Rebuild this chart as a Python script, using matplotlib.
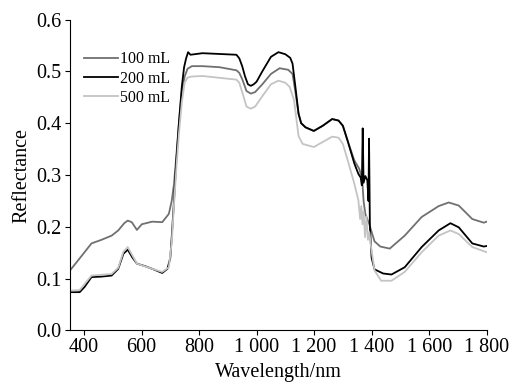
"""
Reflectance spectra for three dosages.
"""

import matplotlib

matplotlib.use("Agg")

import matplotlib.pyplot as plt
from matplotlib.ticker import FuncFormatter

# wavelength (nm) / reflectance pairs
wl_100 = [350, 379, 426, 461, 496, 519, 540, 552, 566, 584, 601, 637, 672, 695,
          705, 713, 720, 730, 740, 750, 760, 775, 812, 871, 930, 940, 950, 965,
          980, 995, 1020, 1050, 1080, 1110, 1125, 1135, 1146, 1155, 1170, 1199,
          1230, 1263, 1285, 1300, 1316, 1340, 1357, 1363, 1368, 1372, 1378,
          1385, 1392, 1400, 1410, 1430, 1463, 1515, 1574, 1633, 1668, 1703,
          1750, 1790, 1800]
refl_100 = [0.115, 0.135, 0.168, 0.175, 0.183, 0.193, 0.207, 0.212, 0.209, 0.194,
            0.205, 0.210, 0.209, 0.225, 0.250, 0.283, 0.330, 0.400, 0.460, 0.490,
            0.505, 0.510, 0.510, 0.508, 0.502, 0.497, 0.485, 0.462, 0.457, 0.460,
            0.475, 0.495, 0.506, 0.503, 0.495, 0.460, 0.418, 0.400, 0.392, 0.385,
            0.395, 0.408, 0.405, 0.395, 0.367, 0.328, 0.312, 0.300, 0.285, 0.250,
            0.225, 0.215, 0.205, 0.190, 0.172, 0.162, 0.158, 0.183, 0.219, 0.240,
            0.247, 0.241, 0.215, 0.208, 0.210]

wl_200 = [350, 385, 402, 426, 461, 496, 519, 537, 552, 568, 584, 613, 637, 672,
          690, 700, 705, 713, 720, 730, 740, 748, 755, 762, 770, 812, 930, 940,
          950, 960, 970, 980, 990, 1000, 1020, 1050, 1076, 1100, 1117, 1125,
          1135, 1146, 1155, 1170, 1199, 1230, 1263, 1285, 1300, 1316, 1340,
          1354, 1362, 1366, 1369, 1372, 1378, 1385, 1389, 1391, 1394, 1400,
          1410, 1440, 1469, 1515, 1574, 1633, 1674, 1703, 1750, 1790, 1800]
refl_200 = [0.074, 0.074, 0.084, 0.103, 0.104, 0.106, 0.119, 0.148, 0.156, 0.141,
            0.129, 0.124, 0.119, 0.111, 0.119, 0.140, 0.180, 0.251, 0.320, 0.400,
            0.470, 0.508, 0.525, 0.537, 0.532, 0.535, 0.532, 0.525, 0.510, 0.490,
            0.475, 0.472, 0.475, 0.480, 0.500, 0.528, 0.537, 0.533, 0.526, 0.515,
            0.470, 0.418, 0.400, 0.392, 0.385, 0.395, 0.408, 0.405, 0.395, 0.367,
            0.322, 0.302, 0.295, 0.280, 0.390, 0.285, 0.298, 0.290, 0.250, 0.370,
            0.200, 0.140, 0.118, 0.110, 0.108, 0.122, 0.161, 0.193, 0.207, 0.199,
            0.168, 0.162, 0.163]

wl_500 = [350, 385, 426, 496, 519, 537, 552, 568, 584, 637, 672, 695, 705, 713,
          722, 730, 740, 750, 760, 775, 812, 930, 940, 950, 965, 980, 995, 1020,
          1050, 1076, 1100, 1115, 1130, 1146, 1160, 1199, 1234, 1263, 1285,
          1300, 1316, 1340, 1354, 1360, 1364, 1368, 1372, 1377, 1382, 1387,
          1392, 1398, 1410, 1433, 1469, 1515, 1574, 1633, 1674, 1703, 1750,
          1800]
refl_500 = [0.077, 0.078, 0.106, 0.109, 0.121, 0.152, 0.161, 0.145, 0.129, 0.119,
            0.113, 0.122, 0.170, 0.244, 0.320, 0.379, 0.440, 0.478, 0.488, 0.490,
            0.491, 0.484, 0.478, 0.460, 0.432, 0.428, 0.432, 0.452, 0.475, 0.482,
            0.478, 0.470, 0.445, 0.375, 0.360, 0.354, 0.365, 0.374, 0.372, 0.360,
            0.330, 0.283, 0.251, 0.215, 0.240, 0.205, 0.230, 0.180, 0.220, 0.175,
            0.190, 0.161, 0.116, 0.096, 0.096, 0.113, 0.151, 0.183, 0.193, 0.186,
            0.161, 0.151]

labels = ["100 mL", "200 mL", "500 mL"]
colors = ["#707070", "#000000", "#c4c4c4"]

x_ticks = [400, 600, 800, 1000, 1200, 1400, 1600, 1800]
y_ticks = [0.0, 0.1, 0.2, 0.3, 0.4, 0.5, 0.6]


def thousands(value: float, _pos: int) -> str:
    """
    Format a tick with a space as the thousands separator.
    """
    return f"{int(value):,}".replace(",", " ")


plt.rcParams["font.family"] = ["Liberation Serif", "DejaVu Serif"]

fig = plt.figure(figsize=(5.29, 3.87), dpi=100)
ax = fig.add_axes([0.1316, 0.146, 0.7884, 0.8036])

series = [(wl_100, refl_100), (wl_200, refl_200), (wl_500, refl_500)]
for (wl, refl), label, color in zip(series, labels, colors):
    ax.plot(wl, refl, color=color, linewidth=1.3, label=label)

ax.set_xlim(350, 1800)
ax.set_ylim(0, 0.6)
ax.set_xticks(x_ticks)
ax.set_yticks(y_ticks)
ax.xaxis.set_major_formatter(FuncFormatter(thousands))
ax.yaxis.set_major_formatter(FuncFormatter(lambda v, _p: f"{v:.1f}"))
ax.tick_params(direction="out", length=3.6, width=0.8, labelsize=14.5, pad=2)

for side in ("top", "right"):
    ax.spines[side].set_visible(False)

ax.set_xlabel("Wavelength/nm", fontsize=14.5, labelpad=4)
ax.set_ylabel("Reflectance", fontsize=14.5, labelpad=4)

ax.legend(
    loc="upper left",
    bbox_to_anchor=(0.02, 0.918),
    frameon=False,
    fontsize=11.4,
    handlelength=2.15,
    handletextpad=0.1,
    labelspacing=0.2,
    borderaxespad=0,
)

fig.savefig("out.png", dpi=100)
